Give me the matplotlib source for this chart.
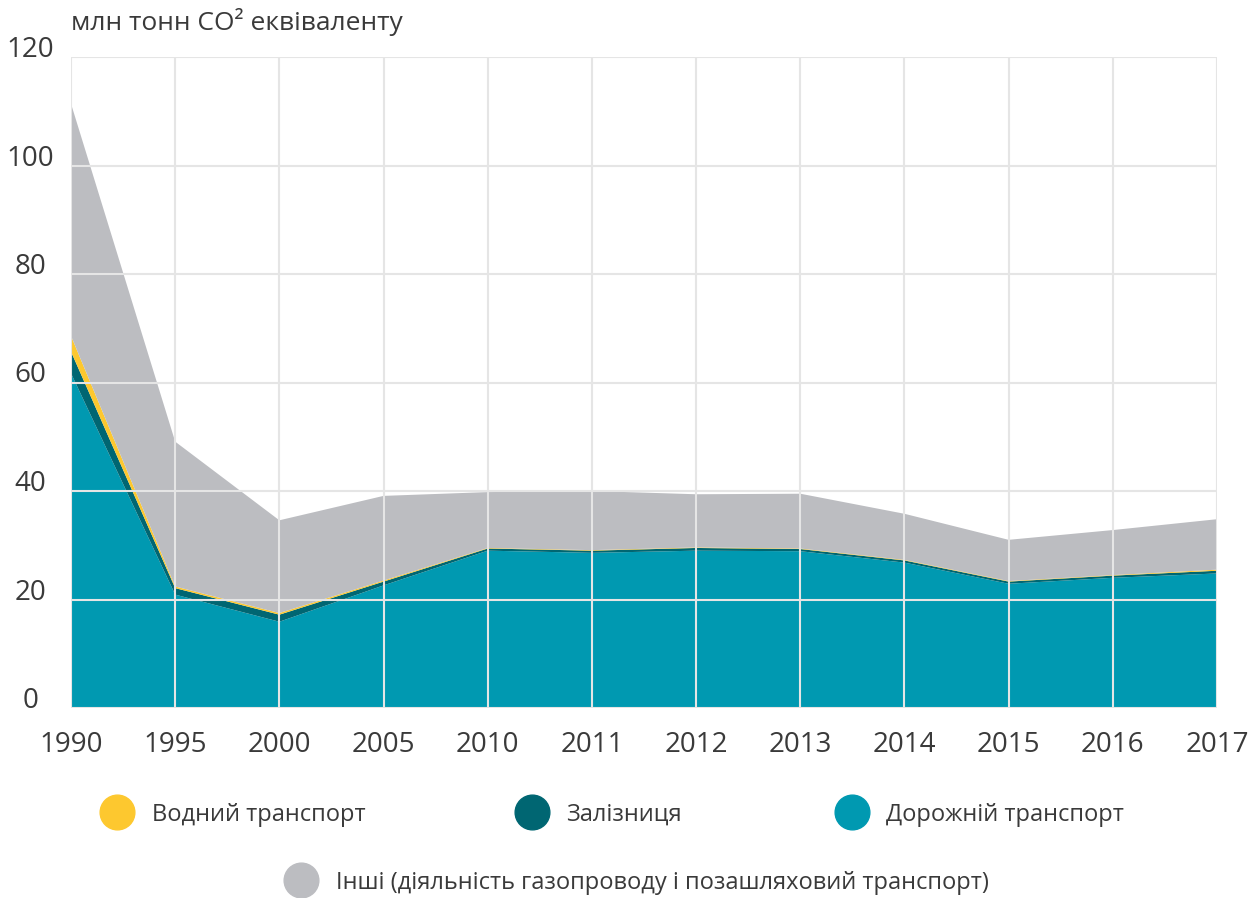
import numpy as np
import matplotlib
matplotlib.use('Agg')
import matplotlib.pyplot as plt
from matplotlib.lines import Line2D

plt.rcParams['font.family'] = ['Open Sans', 'DejaVu Sans']

# Data (million tonnes CO2 equivalent)
years = ['1990', '1995', '2000', '2005', '2010', '2011', '2012', '2013', '2014', '2015', '2016', '2017']
road = [61.7, 20.9, 15.9, 22.6, 29.0, 28.6, 29.0, 28.9, 26.8, 22.9, 24.0, 24.8]
rail = [4.0, 1.2, 1.3, 0.7, 0.4, 0.4, 0.5, 0.4, 0.4, 0.4, 0.4, 0.5]
water = [2.9, 0.3, 0.3, 0.2, 0.1, 0.1, 0.1, 0.1, 0.1, 0.1, 0.1, 0.2]
other = [42.8, 26.7, 17.1, 15.6, 10.3, 10.9, 9.8, 10.1, 8.5, 7.6, 8.3, 9.3]

labels = ['Дорожній транспорт', 'Залізниця', 'Водний транспорт',
          'Інші (діяльність газопроводу і позашляховий транспорт)']
colors = ['#0099b1', '#006672', '#fdc82f', '#bcbdc1']
text_color = '#3a3a3a'

fig = plt.figure(figsize=(12.55, 8.98), dpi=100)
ax = fig.add_axes([71 / 1255, 190 / 898, 1146 / 1255, 651 / 898])

x = np.arange(len(years))
ax.stackplot(x, road, rail, water, other, colors=colors, linewidth=0)

ax.set_xlim(0, len(years) - 1)
ax.set_ylim(0, 120)
ax.set_xticks(x)
ax.set_xticklabels(years)
ax.set_yticks([0, 20, 40, 60, 80, 100, 120])

ax.grid(True, color='#e5e5e5', linewidth=1.5)
ax.set_axisbelow(False)
for s in ax.spines.values():
    s.set_visible(False)

ax.tick_params(axis='y', length=0, pad=29, labelsize=20, labelcolor=text_color)
ax.tick_params(axis='x', length=0, pad=16.5, labelsize=20, labelcolor=text_color)
for lbl in ax.get_yticklabels():
    lbl.set_horizontalalignment('center')
    lbl.set_verticalalignment('baseline')

fig.text(71 / 1255, 1 - 22 / 898, 'млн тонн CO² еквіваленту', fontsize=19,
         color=text_color, ha='left', va='center')

# legend drawn by hand
legend_items = [
    (117, 812, 152, 2),
    (532, 812, 566, 1),
    (852, 812, 886, 0),
    (301, 880, 336, 3),
]
for cx, cy, tx, i in legend_items:
    fig.add_artist(Line2D([cx / 1255], [1 - cy / 898], marker='o', markersize=25,
                          color=colors[i], linestyle='none', transform=fig.transFigure))
    fig.text(tx / 1255, 1 - (cy + 3) / 898, labels[i], fontsize=17, color=text_color,
             ha='left', va='center')

fig.savefig('out.png', dpi=100)
